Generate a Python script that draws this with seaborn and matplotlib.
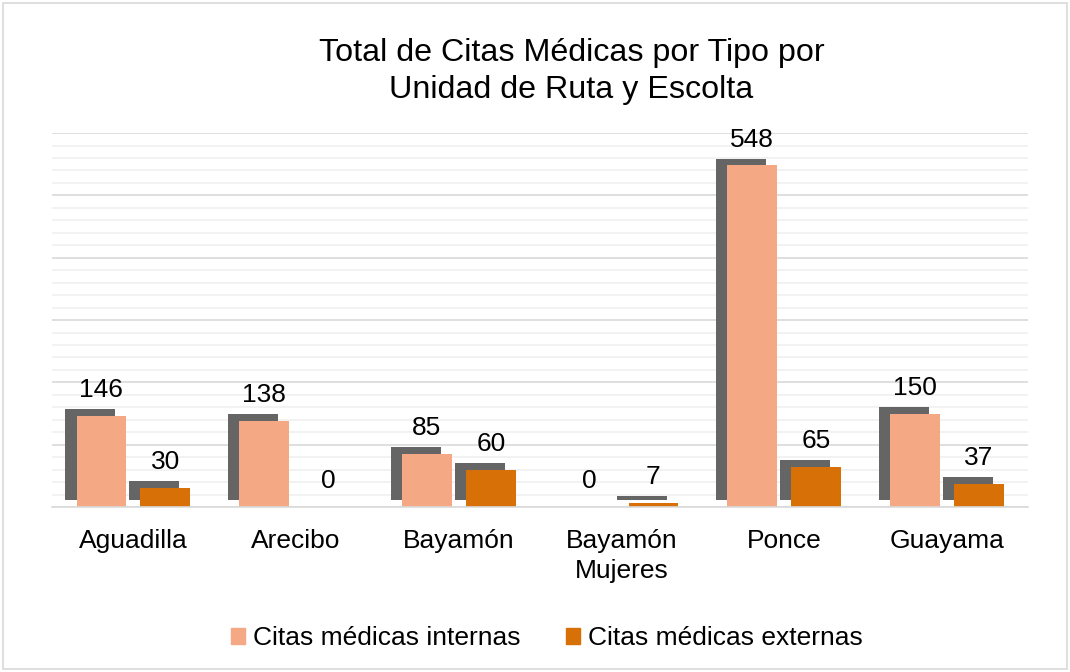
import pandas as pd
import seaborn as sns
import matplotlib.pyplot as plt
import matplotlib.patheffects as pe
from matplotlib.patches import Rectangle
from matplotlib.ticker import MultipleLocator, FixedLocator

## data
unidades = ["Aguadilla", "Arecibo", "Bayamón", "Bayamón\nMujeres", "Ponce", "Guayama"]
internas = [146, 138, 85, 0, 548, 150]
externas = [30, 0, 60, 7, 65, 37]
series = ["Citas médicas internas", "Citas médicas externas"]
colores = ["#F4A984", "#D77007"]

df = pd.DataFrame({
    "unidad": unidades * 2,
    "tipo": [series[0]] * len(unidades) + [series[1]] * len(unidades),
    "citas": internas + externas,
})

sns.set_style("white")
plt.rcParams["font.family"] = ["Liberation Sans", "DejaVu Sans"]
plt.rcParams["text.color"] = "black"
plt.rcParams["xtick.labelcolor"] = "black"

fig = plt.figure(figsize=(10.7, 6.72), dpi=100)
fig.patches.append(Rectangle((0.003, 0.004), 0.994, 0.992, transform=fig.transFigure,
                             fill=False, edgecolor="#d9d9d9", linewidth=1.2))
ax = fig.add_axes([0.0486, 0.2455, 0.9125, 0.5565])

sns.barplot(data=df, x="unidad", y="citas", hue="tipo", order=unidades,
            hue_order=series, palette=colores, width=0.785, gap=0.22,
            linewidth=0, saturation=1, legend=True, ax=ax)

# drop shadow up-left of every bar, like the original
shadow = [pe.SimplePatchShadow(offset=(-8, 5), shadow_rgbFace="#656565", alpha=1.0), pe.Normal()]
for bar in ax.patches:
    bar.set_path_effects(shadow)
for cont in ax.containers:
    ax.bar_label(cont, padding=10, fontsize=19, color="black")

ax.set_ylim(0, 600)
ax.set_xlim(-0.5, len(unidades) - 0.5)
ax.yaxis.set_major_locator(MultipleLocator(100))
ax.yaxis.set_minor_locator(MultipleLocator(20))
ax.set_axisbelow(True)
ax.grid(True, which="major", axis="y", color="#d9d9d9", linewidth=1.2)
ax.grid(True, which="minor", axis="y", color="#f0f0f0", linewidth=1.2)
ax.tick_params(axis="y", which="both", left=False, labelleft=False)
ax.xaxis.set_minor_locator(FixedLocator([i - 0.5 for i in range(len(unidades) + 1)]))
ax.tick_params(axis="x", which="major", length=0, pad=16, labelsize=19, labelcolor="black")
ax.tick_params(axis="x", which="minor", length=6, color="#d9d9d9", width=1.2)
for lbl in ax.get_xticklabels():
    lbl.set_linespacing(1.3)
ax.set_xlabel("")
ax.set_ylabel("")
for s in ["top", "left", "right"]:
    ax.spines[s].set_visible(False)
ax.spines["bottom"].set_color("#d9d9d9")
ax.spines["bottom"].set_linewidth(1.2)

ax.legend_.remove()
handles = [Rectangle((0, 0), 1, 1, color=c) for c in colores]
fig.legend(handles, series, loc="center", bbox_to_anchor=(0.511, 0.05), ncol=2,
           frameon=False, fontsize=19, handlelength=0.55, handleheight=0.55,
           handletextpad=0.3, columnspacing=1.7)

fig.text(0.534, 0.894, "Total de Citas Médicas por Tipo por\nUnidad de Ruta y Escolta",
         ha="center", va="center", fontsize=23.2, linespacing=1.3, color="black")

fig.savefig("out.png", dpi=100)
